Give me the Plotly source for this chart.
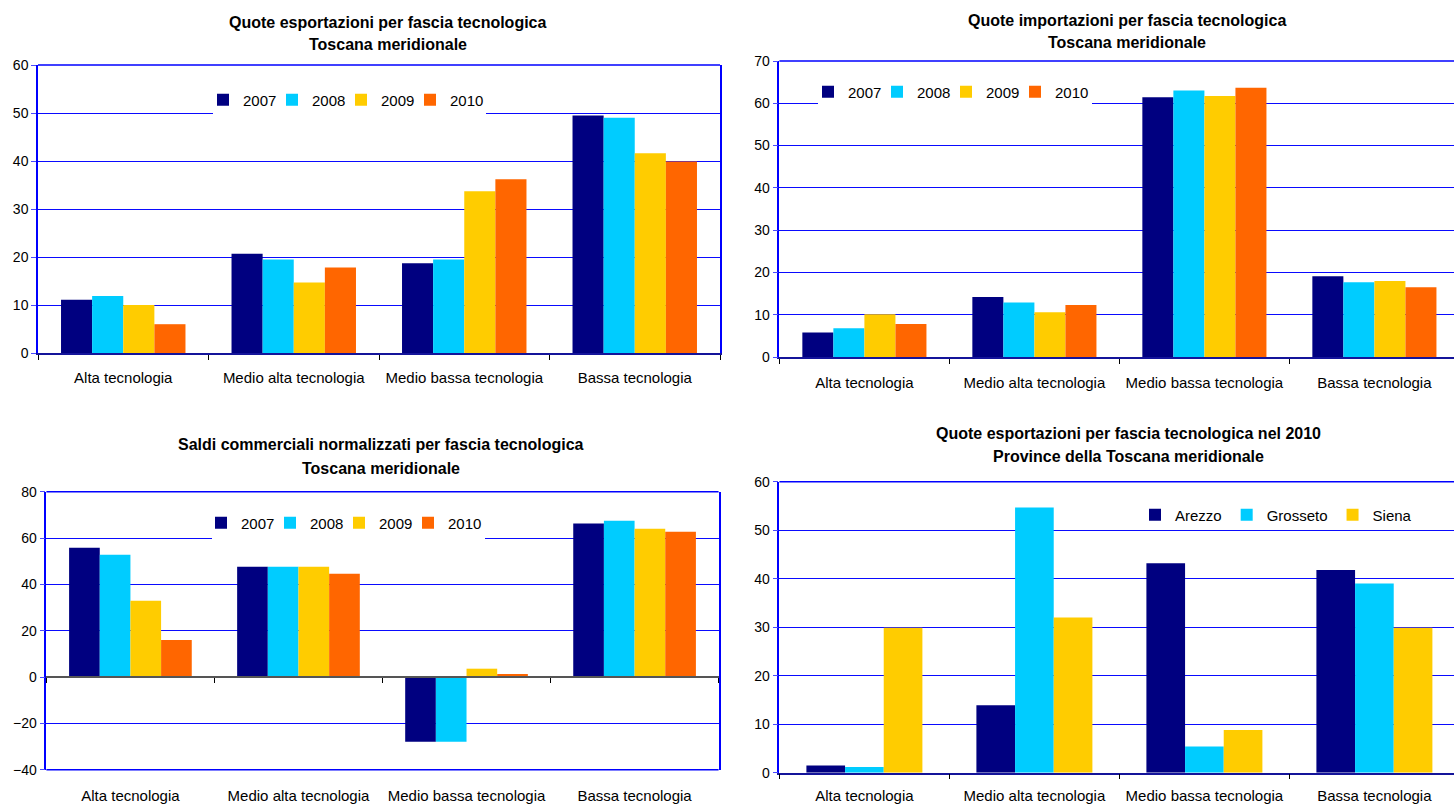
import plotly.graph_objects as go

W, H = 1454, 804

# ---------------- data ----------------
categories = ["Alta tecnologia", "Medio alta tecnologia", "Medio bassa tecnologia", "Bassa tecnologia"]
years = ["2007", "2008", "2009", "2010"]
year_colors = ["#000080", "#00CCFF", "#FFCC00", "#FF6600"]

# Quote esportazioni (Toscana meridionale)
exp_2007 = [11.1, 20.7, 18.7, 49.5]
exp_2008 = [11.9, 19.5, 19.5, 49.0]
exp_2009 = [10.0, 14.7, 33.7, 41.6]
exp_2010 = [6.0, 17.8, 36.2, 39.9]

# Quote importazioni (Toscana meridionale)
imp_2007 = [5.8, 14.2, 61.4, 19.1]
imp_2008 = [6.8, 12.9, 63.0, 17.7]
imp_2009 = [10.1, 10.6, 61.7, 18.0]
imp_2010 = [7.8, 12.3, 63.7, 16.5]

# Saldi commerciali normalizzati
bal_2007 = [55.8, 47.6, -27.9, 66.3]
bal_2008 = [52.8, 47.6, -27.9, 67.5]
bal_2009 = [32.9, 47.6, 3.6, 64.0]
bal_2010 = [16.0, 44.6, 1.3, 62.7]

# Quote esportazioni 2010 per provincia
provinces = ["Arezzo", "Grosseto", "Siena"]
prov_colors = ["#000080", "#00CCFF", "#FFCC00"]
arezzo = [1.5, 13.9, 43.2, 41.8]
grosseto = [1.2, 54.7, 5.4, 39.0]
siena = [29.9, 32.0, 8.8, 29.9]

titles = [
    ("Quote esportazioni per fascia tecnologica", "Toscana meridionale"),
    ("Quote importazioni per fascia tecnologica", "Toscana meridionale"),
    ("Saldi commerciali normalizzati per fascia tecnologica", "Toscana meridionale"),
    ("Quote esportazioni per fascia tecnologica nel 2010", "Province della Toscana meridionale"),
]

# ---------------- helpers ----------------
def px_x(p):
    return p / W

def px_y(p):
    return 1 - p / H

FONT = "Liberation Sans, Arial, sans-serif"
GRID = "#0a0aff"
AXIS_DARK = "#14149a"

fig = go.Figure()

def add_years(values_list, axis_id, legend_id):
    for name, vals, col in zip(years, values_list, year_colors):
        fig.add_trace(go.Bar(
            x=categories, y=vals, name=name,
            marker=dict(color=col, line=dict(width=0)),
            xaxis="x" + axis_id, yaxis="y" + axis_id, legend=legend_id,
        ))
    # empty legend spacer (no bar drawn, excluded from grouping via offset)
    fig.add_trace(go.Bar(
        x=[categories[0]], y=[None], name=" ", marker=dict(color="rgba(0,0,0,0)"),
        offset=0, width=0.001,
        xaxis="x" + axis_id, yaxis="y" + axis_id, legend=legend_id, hoverinfo="skip",
    ))

add_years([exp_2007, exp_2008, exp_2009, exp_2010], "", "legend")
add_years([imp_2007, imp_2008, imp_2009, imp_2010], "2", "legend2")
add_years([bal_2007, bal_2008, bal_2009, bal_2010], "3", "legend3")

bw4 = 116 / 170 / 3
for i, (name, vals, col) in enumerate(zip(provinces, [arezzo, grosseto, siena], prov_colors)):
    fig.add_trace(go.Bar(
        x=categories, y=vals, name=name,
        marker=dict(color=col, line=dict(width=0)),
        width=bw4, offset=(-1.5 + i) * bw4,
        xaxis="x4", yaxis="y4", legend="legend4",
    ))

# ---------------- axes geometry (pixel based) ----------------
x1 = [px_x(38), px_x(720)]
y1 = [px_y(353), px_y(65)]
x2 = [px_x(779.4), 1.0]
y2 = [px_y(357), px_y(61)]
x3 = [px_x(46.4), px_x(718.6)]
y3 = [px_y(769.7), px_y(491.7)]
x4 = [px_x(779.4), 1.0]
y4 = [px_y(772.7), px_y(481.7)]

right_range = -0.5 + (W - 779.4) / 170.0

def yaxis(domain, anchor, rng, dtick, mirror):
    return dict(
        domain=domain, anchor=anchor, range=rng, dtick=dtick, automargin=False,
        showgrid=True, gridcolor=GRID, gridwidth=1,
        zeroline=False, showline=True, linecolor="#0000ff", linewidth=1.5,
        mirror=mirror, ticks="outside", ticklen=5, tickcolor="#4a4aff",
        tickfont=dict(size=14, color="#000000", family=FONT),
        fixedrange=True,
    )

def xaxis(domain, anchor, rng, standoff, linecolor=AXIS_DARK, **kw):
    d = dict(
        domain=domain, anchor=anchor, range=rng, type="category", automargin=False,
        categoryorder="array", categoryarray=categories,
        showgrid=False, zeroline=False, showline=True, linecolor=linecolor, linewidth=1.5,
        ticks="outside", tickson="boundaries", ticklen=5, tickcolor="#000000",
        tickfont=dict(size=15, color="#000000", family=FONT),
        ticklabelstandoff=standoff, fixedrange=True,
    )
    d.update(kw)
    return d

zero_pos3 = y3[0] + (0 - (-40)) / 120.0 * (y3[1] - y3[0])

layout = dict(
    template="none",
    width=W, height=H,
    margin=dict(l=0, r=0, t=0, b=0, pad=0, autoexpand=False),
    paper_bgcolor="white", plot_bgcolor="white",
    font=dict(family=FONT, size=14, color="#000000"),
    barmode="group", bargap=0.27, bargroupgap=0,
    showlegend=True,
    xaxis=xaxis(x1, "y", [-0.5, 3.5], 10),
    yaxis=yaxis(y1, "x", [0, 60], 10, True),
    xaxis2=xaxis(x2, "y2", [-0.5, right_range], 11),
    yaxis2=yaxis(y2, "x2", [0, 70], 10, False),
    xaxis3=xaxis(x3, "free", [-0.5, 3.5], 105, linecolor="#555555", position=zero_pos3),
    yaxis3=yaxis(y3, "x3", [-40, 80], 20, True),
    xaxis4=xaxis(x4, "y4", [-0.5, right_range], 9),
    yaxis4=yaxis(y4, "x4", [0, 60], 10, False),
)

def legend(xp, yp, fixed=True):
    d = dict(
        orientation="h", x=px_x(xp), xanchor="left", y=px_y(yp), yanchor="middle",
        bgcolor="rgba(255,255,255,0)", borderwidth=0,
        font=dict(size=15, family=FONT, color="#000000"),
        itemwidth=30, traceorder="normal",
    )
    if fixed:
        d.update(entrywidth=24, entrywidthmode="pixels")
    return d

layout["legend"] = legend(203, 100)
layout["legend2"] = legend(808, 92)
layout["legend3"] = legend(201, 523)
layout["legend4"] = legend(1135, 515, fixed=False)

shapes = []
# frame lines at the top (and bottom of chart 3) of each plot area
for ax in ["", "2", "3", "4"]:
    shapes.append(dict(type="line", xref="x%s domain" % ax, yref="y%s domain" % ax,
                       x0=0, x1=1, y0=1, y1=1, line=dict(color="#0000ff", width=1.5), layer="above"))
shapes.append(dict(type="line", xref="x3 domain", yref="y3 domain",
                   x0=0, x1=1, y0=0, y1=0, line=dict(color="#0000ff", width=1.5), layer="above"))
# white legend background boxes (interrupt the gridline behind the legend)
for (lx0, lx1, ly0, ly1) in [(213, 486, 88, 116), (818, 1092, 80, 106), (212, 485, 511, 541)]:
    shapes.append(dict(type="rect", xref="paper", yref="paper",
                       x0=px_x(lx0), x1=px_x(lx1), y0=px_y(ly1), y1=px_y(ly0),
                       fillcolor="white", line=dict(width=0), layer="above"))
layout["shapes"] = shapes

annotations = []
title_pos = [
    (388, 22, 45),
    (1127, 20, 43),
    (381, 445, 468),
    (1128, 433, 456),
]
for (l1, l2), (cx, ya, yb) in zip(titles, title_pos):
    for txt, yy in ((l1, ya), (l2, yb)):
        annotations.append(dict(
            text="<b>" + txt + "</b>", x=px_x(cx), y=px_y(yy), xref="paper", yref="paper",
            xanchor="center", yanchor="middle", showarrow=False,
            font=dict(size=16, family=FONT, color="#000000"),
        ))
layout["annotations"] = annotations

fig.update_layout(**layout)
fig.write_html("out.html", include_plotlyjs=True, config={"displayModeBar": False})
